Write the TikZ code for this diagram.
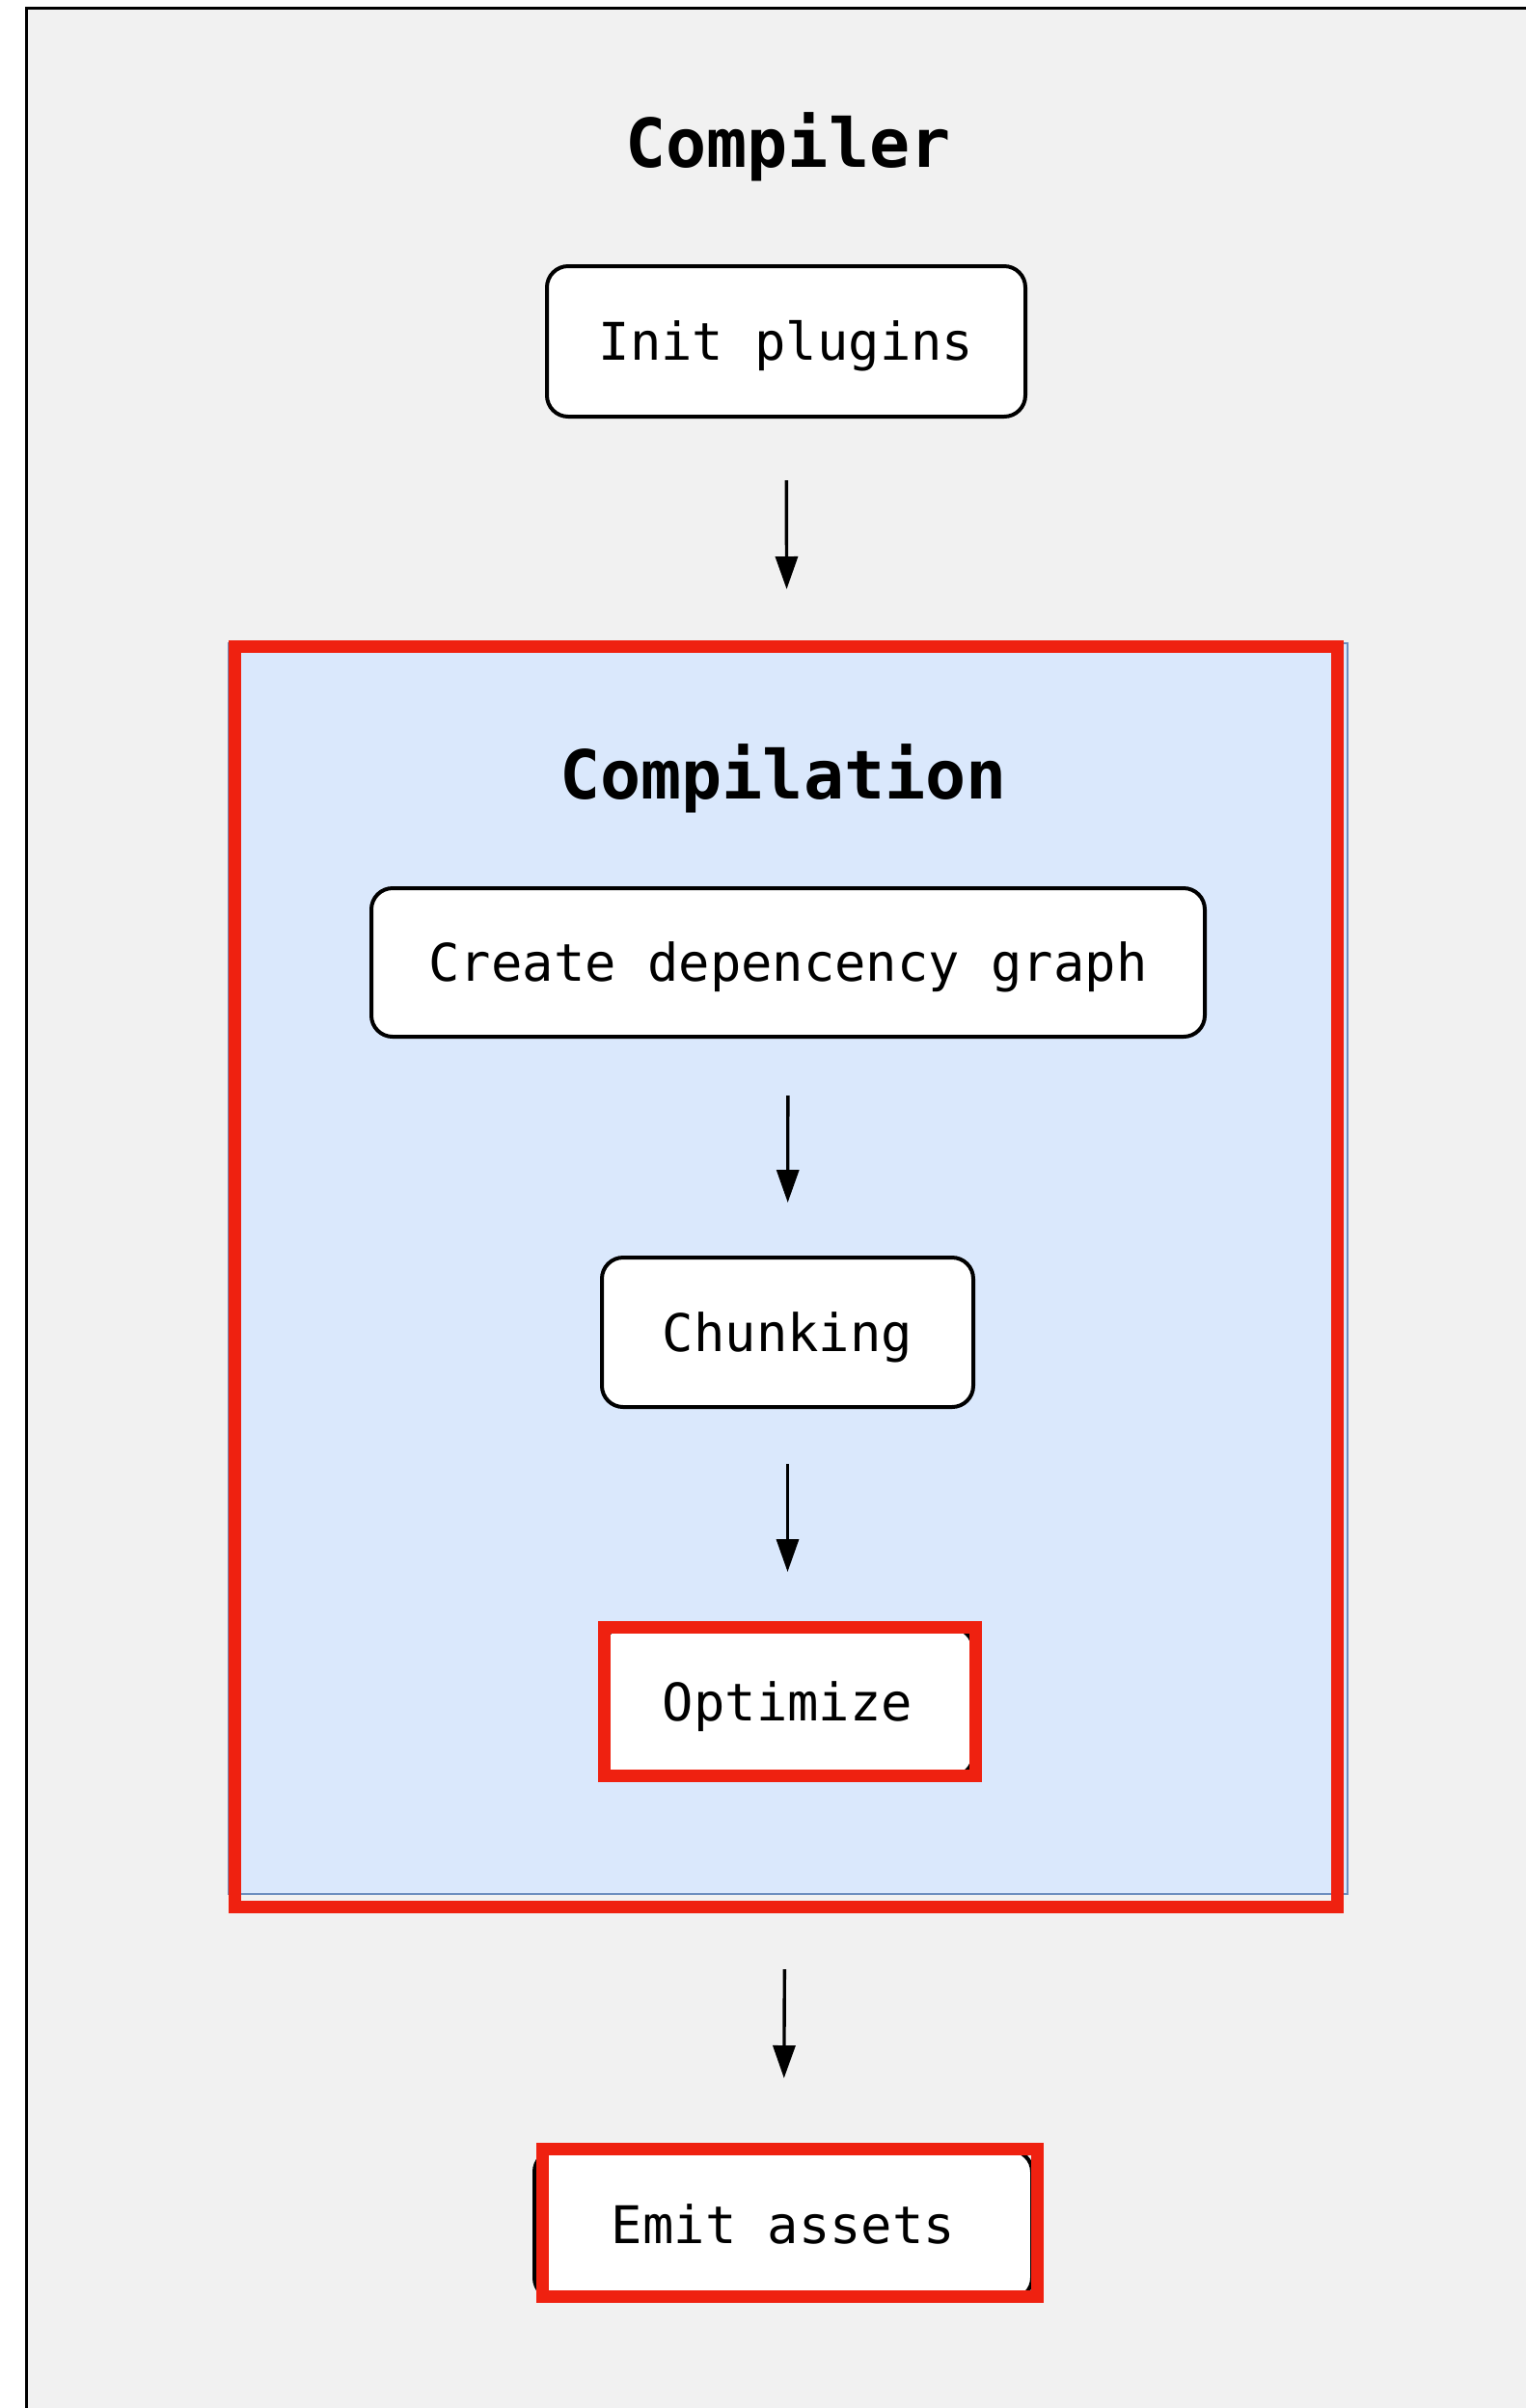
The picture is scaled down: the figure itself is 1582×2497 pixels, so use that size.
\documentclass[tikz,border=0pt]{standalone}
\usepackage{fontspec}
\setmonofont{DejaVu Sans Mono}
\usetikzlibrary{arrows.meta}

\definecolor{fundo}{HTML}{F1F1F1}
\definecolor{azulfundo}{HTML}{DAE8FC}
\definecolor{azulborda}{HTML}{6C8EBF}
\definecolor{vermelho}{RGB}{239,33,16}

\tikzset{
    etapa/.style={draw=black, line width=2pt, fill=white, rounded corners=11pt, inner sep=0pt,
        font=\ttfamily\fontsize{26.9}{30}\selectfont, text height=19.6pt, text depth=0pt},
    titulo/.style={font=\ttfamily\bfseries\fontsize{35}{40}\selectfont, anchor=base},
    seta/.style={-{Triangle[length=17pt,width=11.5pt]}, line width=1.7pt},
    marca/.style={draw=vermelho, line width=6.5pt}
}

\begin{document}
\begin{tikzpicture}[x=0.5pt, y=-0.5pt]
        \useasboundingbox (0,0) rectangle (1582,2497);
        \clip (0,0) rectangle (1582,2497);
        \fill[white] (0,0) rectangle (1582,2497);

        % Moldura do compilador
        \draw[fill=fundo, line width=1.5pt] (27.5,8.7) rectangle (1640,2560);
        \node[titulo] (tcompiler) at (817,173) {Compiler};
        \node[etapa, minimum width=248pt, minimum height=78pt] (init) at (815,354) {Init plugins};

        % Bloco de compilacao
        \node[draw=azulborda, fill=azulfundo, line width=1pt, inner sep=0pt,
            minimum width=580pt, minimum height=648.5pt] (comp) at (817,1315.5) {};
        \node[titulo] (tcomp) at (812,828) {Compilation};
        \node[etapa, minimum width=432pt, minimum height=77pt] (grafo) at (817,998) {Create depencency graph};
        \node[etapa, minimum width=192.5pt, minimum height=77.5pt] (chunk) at (816.5,1381.5) {Chunking};
        \node[etapa, minimum width=192.5pt, minimum height=77pt] (otim) at (816.5,1765) {Optimize};

        % Saida
        \node[etapa, minimum width=258pt, minimum height=77pt] (emit) at (812,2307) {Emit assets};

        % Setas entre etapas
        \foreach \a/\b/\s/\e in {init/comp/32pt/27.5pt, grafo/chunk/29.5pt/27.5pt,
                                 chunk/otim/28.5pt/28pt, comp/emit/38.5pt/36.5pt} {
            \draw[seta, shorten <=\s, shorten >=\e] (\a) -- (\b);
        }

        % Marcas vermelhas
        \draw[marca] (243.5,670) rectangle (1386,1977.5);
        \draw[marca] (626.5,1687.5) rectangle (1011,1841.5);
        \draw[marca] (562.5,2228.5) rectangle (1075.5,2381.5);
\end{tikzpicture}
\end{document}
